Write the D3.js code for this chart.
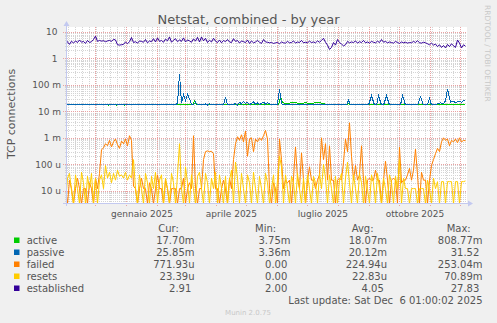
<!DOCTYPE html>
<html><head><meta charset="utf-8">
<script src="https://cdn.jsdelivr.net/npm/d3@7"></script>
<style>body{margin:0;background:#f0f0f0}svg{display:block}text{font-family:"DejaVu Sans",sans-serif}</style>
</head><body><svg id="c" width="497" height="323"></svg>
<script>
// ---- data ----
const seriesNames = ["active","passive","failed","resets","established"];
const seriesColors = ["#00cc00","#0066b3","#ff8000","#ffcc00","#330099"];
// dense series: one value every 2 days from the start of the window
const stepDays = 2;
const failedU = [12,0,25,12,0,12,30,12,0,12, 12,0,20,12,0,30,12,45,
 350,420,600,500,800,450,700,900,550,400,750,600,900,500,1200,800,
 15,
 12,0,12,30,12,12,0,20,12,0,12,40,12,12,0,25,12,0,12,12,
 12,0,12,12,30,0,12,20,12,1200,12,0,12,12,
 150,300,320,300,310,250,12,
 12,0,12,25,12,0,30,12,
 150,600,1100,800,1300,700,1800,200,900,1000,300,900,700,1000,800,1200,1900,900,
 12,0,20,12,0,
 900,150,12,25,20,25,0,30,450,30,
 12,270,25,0,25,80,25,25,12,25,
 40,1000,150,600,25,500,25,25,0,25,
 30,25,120,900,300,3700,200,25,90,25,
 40,500,25,0,25,30,25,25,60,25,
 25,0,25,130,25,0,25,30,25,0,
 450,20,25,25,40,70,25,60,370,40,
 0,50,25,25,0,25,90,150,250,400,
 300,700,1000,800,900,500,800,700,900,650,
 1000,700,800,771.93];
const resetsU = [0,30,45,10,0,40,12,0,50,20,
 0,35,12,45,0,30,0,25,40,12,
 90,30,50,20,45,25,60,35,40,30,
 50,25,40,30,150,12,0,40,12,0,
 45,20,0,35,12,50,0,25,40,0,
 30,12,0,45,20,0,40,600,12,0,
 80,20,0,40,12,0,35,50,12,0,
 45,20,0,30,12,50,0,40,12,0,
 35,0,25,60,0,120,30,0,45,12,
 0,40,20,0,50,12,0,35,12,0,
 45,20,0,12,40,0,25,200,80,0,
 40,12,0,35,20,0,45,12,0,30,
 0,40,12,0,35,20,0,45,12,100,
 30,0,40,12,0,35,0,25,45,0,
 30,120,20,0,40,12,0,45,20,0,
 35,12,0,40,20,0,45,12,0,30,
 12,0,40,20,0,35,12,150,0,30,
 12,12,0,12,12,12,0,12,12,12,
 0,25,12,0,30,12,22,0,22,22,
 0,22,22,22,0,22,22,0,22,22,
 23.39];
const established = [5.3,4.2,3.4,4.5,3.8,4.6,4.0,5.0,4.1,4.4,
 3.7,4.8,4.0,4.3,5.2,7.0,4.4,4.8,4.5,4.7,
 4.3,4.6,4.8,4.4,5.3,5.0,3.3,3.2,3.3,3.4,
 4.2,3.6,4.3,6.2,4.0,4.3,3.8,4.6,4.4,4.1,
 5.2,3.9,4.6,4.3,5.6,4.2,6.0,4.4,4.8,4.1,
 5.4,4.6,6.5,4.1,4.9,5.6,4.3,5.0,4.4,6.0,
 4.2,5.0,4.6,4.1,5.5,4.5,6.3,4.2,6.5,4.6,
 5.8,4.0,4.9,4.2,5.8,4.5,4.0,5.0,3.9,4.8,
 4.3,5.2,4.2,4.0,5.6,4.4,4.8,3.8,4.6,4.3,
 4.0,5.0,3.7,4.6,3.9,4.2,4.8,4.1,3.7,5.2,
 4.2,4.1,3.9,4.0,3.7,3.9,4.0,3.6,4.2,3.9,
 3.8,4.4,3.9,4.0,4.6,3.8,4.2,4.0,4.8,3.9,
 4.1,3.9,4.5,4.0,4.2,3.9,4.6,4.1,4.8,5.8,
 4.1,3.2,2.2,2.6,4.0,3.2,5.2,4.0,3.5,3.0,
 3.3,4.4,3.9,4.2,4.0,4.6,3.8,4.3,4.0,4.8,
 3.9,4.2,3.8,4.4,4.1,3.9,4.5,4.0,5.2,4.1,
 4.4,3.9,4.2,4.0,3.8,4.4,4.0,3.7,4.2,3.9,
 4.1,3.8,4.0,3.9,4.4,4.0,4.7,3.9,3.8,4.1,
 3.9,3.6,3.3,3.8,3.2,3.5,2.8,3.3,2.6,3.1,
 2.5,3.4,2.8,3.6,3.0,2.6,5.0,3.8,2.5,3.3,
 2.91];
// sparse series: day offset from window start, value in milli
const passiveDay = [0,108,110,112,114,116,118,120,122,124,126,128,130,132,140,142,144,146,158,160,162,168,170,172,174,176,178,180,182,184,186,188,190,192,194,196,198,200,202,206,210,212,214,216,220,224,228,232,236,240,244,250,256,261,281,283,285,303,306,309,311,313,316,318,321,324,335,337,340,352,355,358,362,364,366,372,375,378,380,382,385,388,390,393,396,398,400];
const passiveM   = [17.4,17.4,18,20,260,20,42,25,45,30,18,17.4,22,17.4,19,17.4,20,17.4,17.4,35,17.4,18,20,17.4,22,19,24,20,22,18,20,23,19,21,18,20,22,19,21,18,17.4,19,68,19,17.4,18,17.4,18,17.4,18,17.4,18,17.4,17.4,17.4,26,17.4,17.4,38,17.4,17.4,38,17.4,17.4,38,17.4,17.4,40,17.4,17.4,35,17.4,17.4,30,17.4,19,21,20,25,68,22,24,21,24,22,26,25.85];
const activeDay = [0,40,41,43,45,49,51,53,57,59,61,64,66,127,129,131,213,215,217,222,228,234,240,246,252,258,261,281,283,285,400];
const activeM   = [17.4,17.4,18.8,17.4,18.8,18.8,17.4,18.8,18.8,17.4,18.8,18.8,17.4,17.4,24,17.4,17.4,35,21,20,22,20,21,20,22,20,17.4,17.4,20,17.4,17.7];
// axes
const yTickValues = [10,1,0.1,0.01,0.001,0.0001,0.00001];
const yTickLabels = ["10","1","100 m","10 m","1 m","100 u","10 u"];
const xLabelMonths = ["2025-01","2025-04","2025-07","2025-10"];
const xLabelTexts = ["gennaio 2025","aprile 2025","luglio 2025","ottobre 2025"];
// legend
const legCur = ["17.70m","25.85m","771.93u","23.39u","2.91"];
const legMin = ["3.75m","3.36m","0.00","0.00","2.00"];
const legAvg = ["18.07m","20.12m","224.94u","22.83u","4.05"];
const legMax = ["808.77m","31.52","253.04m","70.89m","27.83"];
const lastUpdate = "Last update: Sat Dec  6 01:00:02 2025";

// ---- chart ----
const DAY = 864e5;
const START = Date.UTC(2024,10,1,1,0,2), END = START + 400*DAY;
const L=66, R=467, T=27, B=203;
const svg = d3.select("#c");
const x = d3.scaleUtc().domain([START, END]).range([65.5, 465.5]);
const y = d3.scaleLog().domain([3.43e-6, 15.46]).range([B, T]);
const yv = v => v <= y.domain()[0] ? B+1 : y(v);

svg.append("rect").attr("x",L).attr("y",T).attr("width",R-L).attr("height",B-T).attr("fill","#fff");
svg.append("clipPath").attr("id","pc").append("rect").attr("x",L).attr("y",T-1).attr("width",R-L).attr("height",B-T+1);

const grid = svg.append("g").attr("shape-rendering","crispEdges");
// minor horizontal
const minorY = [];
for (let e=-6; e<=1; e++) for (let m=2; m<=9; m++) { const v=m*Math.pow(10,e); if (v>y.domain()[0] && v<y.domain()[1]) minorY.push(v); }
grid.selectAll(".hm").data(minorY).join("line").attr("x1",L-1).attr("x2",R).attr("y1",d=>Math.round(y(d))+0.5).attr("y2",d=>Math.round(y(d))+0.5)
  .attr("stroke","#d4d4d4").attr("stroke-dasharray","1,1");
// minor vertical (weeks)
const weeks = d3.utcMonday.range(new Date(START), new Date(END));
grid.selectAll(".vm").data(weeks).join("line").attr("y1",T).attr("y2",B+1).attr("x1",d=>Math.round(x(d))+0.5).attr("x2",d=>Math.round(x(d))+0.5)
  .attr("stroke","#d4d4d4").attr("stroke-dasharray","1,1");
// major horizontal
grid.selectAll(".hM").data(yTickValues).join("line").attr("x1",L-3).attr("x2",R).attr("y1",d=>Math.round(y(d))+0.5).attr("y2",d=>Math.round(y(d))+0.5)
  .attr("stroke","#eaa2a2").attr("stroke-dasharray","1,1");
// major vertical (months)
const months = d3.utcMonth.range(new Date(START), new Date(END));
grid.selectAll(".vM").data(months).join("line").attr("y1",T).attr("y2",B+3).attr("x1",d=>Math.round(x(d))+0.5).attr("x2",d=>Math.round(x(d))+0.5)
  .attr("stroke","#eaa2a2").attr("stroke-dasharray","1,1");

// series
const dense = arr => arr.map((v,i)=>({t:START+i*stepDays*DAY, v}));
const sparse = (days, vals, k) => days.map((d,i)=>({t:START+d*DAY, v:vals[i]*k}));
const data = [
  sparse(activeDay, activeM, 1e-3),
  sparse(passiveDay, passiveM, 1e-3),
  dense(failedU.map(v=>v*1e-6)),
  dense(resetsU.map(v=>v*1e-6)),
  dense(established)
];
const line = d3.line().x(d=>x(d.t)).y(d=>yv(d.v));
const pg = svg.append("g").attr("clip-path","url(#pc)");
data.forEach((s,i)=>{
  pg.append("path").attr("d",line(s)).attr("fill","none").attr("stroke",seriesColors[i]).attr("stroke-width",1)
    .attr("shape-rendering", i<2 ? "crispEdges" : "auto");
});

// axes
const ax = "#c3c9f0";
svg.append("line").attr("x1",L-3).attr("x2",R+2).attr("y1",B+0.5).attr("y2",B+0.5).attr("stroke",ax);
svg.append("line").attr("x1",L+0.5).attr("x2",L+0.5).attr("y1",B+3).attr("y2",T-3).attr("stroke",ax);
svg.append("path").attr("d",`M${R+1},${B-2.5}L${R+6},${B+0.5}L${R+1},${B+3.5}Z`).attr("fill",ax);
svg.append("path").attr("d",`M${L-2.5},${T-1}L${L+0.5},${T-6}L${L+3.5},${T-1}Z`).attr("fill",ax);

// y labels
svg.selectAll(".yl").data(yTickValues).join("text").attr("x",(d,i)=>/[a-z]$/.test(yTickLabels[i])?61:57.5).attr("y",d=>y(d)+3.3)
  .attr("text-anchor","end").attr("font-size",9).attr("fill","#555").text((d,i)=>yTickLabels[i]);
// x labels
svg.selectAll(".xl").data(xLabelMonths).join("text")
  .attr("x",d=>{const m=new Date(d+"-01T00:00:00Z"); return x(new Date((+m + +d3.utcMonth.offset(m,1))/2));})
  .attr("y",216.5).attr("text-anchor","middle").attr("font-size",9).attr("fill","#555").text((d,i)=>xLabelTexts[i]);

// title & side texts
svg.append("text").attr("x",248.5).attr("y",24).attr("text-anchor","middle").attr("font-size",13).attr("fill","#555").text("Netstat, combined - by year");
svg.append("text").attr("transform","translate(15,114) rotate(-90)").attr("text-anchor","middle").attr("font-size",11).attr("fill","#555").text("TCP connections");
svg.append("text").attr("transform","translate(485,5) rotate(90)").attr("font-size",7.5).attr("fill","#c8c8c8").text("RRDTOOL / TOBI OETIKER");
svg.append("text").attr("x",248).attr("y",315).attr("text-anchor","middle").attr("font-size",7).attr("fill","#c8c8c8").text("Munin 2.0.75");

// legend
const mono = "DejaVu Sans Mono, monospace";
const lg = svg.append("g").attr("font-family",mono).attr("font-size",10).attr("fill","#555");
[["Cur:",158.3],["Min:",255],["Avg:",351.7],["Max:",446.7]].forEach(([t,px])=>lg.append("text").attr("x",px).attr("y",231.5).text(t));
const pad = s => /\d$/.test(s) ? s+"\u00a0" : s;
seriesNames.forEach((n,i)=>{
  const by = 243.5 + i*12;
  svg.append("rect").attr("x",14).attr("y",by-6).attr("width",5.5).attr("height",5.5).attr("fill",seriesColors[i]);
  lg.append("text").attr("x",26.7).attr("y",by).text(n);
  [[legCur,194.5],[legMin,290.5],[legAvg,387],[legMax,482.5]].forEach(([arr,px])=>
    lg.append("text").attr("x",px).attr("y",by).attr("text-anchor","end").text(pad(arr[i])));
});
lg.append("text").attr("x",482.5).attr("y",303.5).attr("text-anchor","end").attr("xml:space","preserve").style("white-space","pre").text(lastUpdate);
</script></body></html>
